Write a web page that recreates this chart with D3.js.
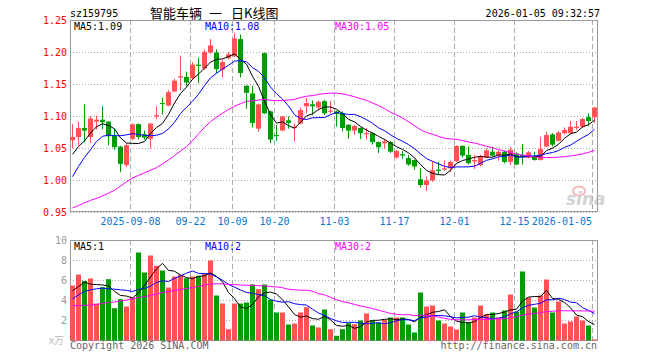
<!DOCTYPE html>
<html>
<head>
<meta charset="utf-8">
<script src="https://cdn.jsdelivr.net/npm/d3@7"></script>
<style>
  body { margin: 0; background: #fff; }
  text { font-family: "DejaVu Sans Mono", monospace; font-size: 10px; }
</style>
</head>
<body>
<div class="chart"></div>
<script>
// Sina daily K-line chart for sz159795
var opens = [1.063,1.068,1.082,1.068,1.092,1.095,1.092,1.070,1.053,1.024,
  1.065,1.088,1.072,1.065,1.100,1.121,1.117,1.139,1.161,1.162,
  1.160,1.181,1.175,1.200,1.200,1.173,1.191,1.194,1.221,1.148,
  1.136,1.081,1.199,1.108,1.071,1.078,1.094,1.082,1.089,1.116,
  1.119,1.114,1.124,1.108,1.108,1.105,1.087,1.078,1.082,1.072,
  1.074,1.060,1.058,1.060,1.036,1.041,1.035,1.032,1.002,0.993,
  1.000,1.017,1.017,1.019,1.030,1.054,1.040,1.030,1.024,1.036,
  1.045,1.039,1.045,1.029,1.042,1.040,1.037,1.037,1.032,1.053,
  1.072,1.062,1.074,1.074,1.082,1.084,1.099,1.099];
var highs = [1.088,1.092,1.119,1.101,1.101,1.116,1.093,1.081,1.054,1.059,
  1.089,1.089,1.078,1.090,1.116,1.129,1.141,1.159,1.195,1.170,
  1.185,1.192,1.204,1.221,1.205,1.189,1.201,1.230,1.228,1.149,
  1.148,1.120,1.200,1.109,1.087,1.101,1.100,1.089,1.114,1.129,
  1.125,1.125,1.126,1.124,1.109,1.108,1.088,1.087,1.083,1.082,
  1.075,1.061,1.065,1.062,1.048,1.046,1.040,1.033,1.019,1.006,
  1.030,1.029,1.031,1.031,1.055,1.055,1.053,1.040,1.040,1.050,
  1.053,1.047,1.047,1.053,1.044,1.057,1.046,1.045,1.068,1.076,
  1.074,1.077,1.083,1.093,1.093,1.098,1.105,1.115];
var lows = [1.050,1.055,1.060,1.059,1.080,1.080,1.055,1.048,1.013,1.021,
  1.063,1.064,1.064,1.050,1.096,1.103,1.116,1.138,1.141,1.147,
  1.158,1.152,1.173,1.198,1.168,1.161,1.189,1.193,1.161,1.112,
  1.083,1.076,1.104,1.058,1.062,1.077,1.081,1.061,1.088,1.105,
  1.102,1.110,1.102,1.104,1.084,1.077,1.065,1.071,1.065,1.064,
  1.056,1.043,1.050,1.043,1.034,1.034,1.023,1.017,0.989,0.984,
  0.998,1.009,1.015,1.013,1.029,1.036,1.025,1.018,1.022,1.035,
  1.037,1.031,1.027,1.024,1.024,1.025,1.035,1.031,1.031,1.052,
  1.053,1.061,1.072,1.073,1.079,1.082,1.085,1.090];
var closes = [1.068,1.082,1.078,1.097,1.095,1.091,1.069,1.052,1.026,1.055,
  1.088,1.068,1.067,1.089,1.102,1.120,1.138,1.156,1.163,1.153,
  1.181,1.179,1.201,1.211,1.174,1.185,1.197,1.222,1.168,1.137,
  1.090,1.119,1.105,1.064,1.070,1.100,1.090,1.084,1.110,1.121,
  1.116,1.123,1.105,1.109,1.104,1.082,1.078,1.085,1.074,1.074,
  1.060,1.052,1.061,1.045,1.046,1.039,1.025,1.022,0.993,1.000,
  1.016,1.015,1.019,1.029,1.054,1.039,1.027,1.032,1.037,1.047,
  1.039,1.045,1.029,1.048,1.025,1.038,1.044,1.032,1.049,1.071,
  1.056,1.075,1.079,1.084,1.084,1.096,1.093,1.114];
var volumes = [5.5,6.6,5.95,6.2,3.7,5.33,6.13,3.23,4.13,3.4,
  4.3,8.8,6.8,8.5,7.47,7.0,5.3,6.4,6.57,6.23,
  6.4,6.47,6.67,8.0,4.5,3.7,1.13,3.7,3.7,3.8,
  5.6,5.13,5.6,4.07,2.8,2.8,1.6,1.7,2.8,3.33,
  1.5,1.3,3.1,1.13,0.47,1.13,1.73,1.63,2.0,2.7,
  2.0,1.8,2.07,2.3,2.3,2.3,1.6,0.8,4.8,3.4,
  3.5,2.0,1.7,1.4,1.1,2.8,1.8,2.3,3.5,2.6,
  2.8,2.3,3.0,4.6,2.9,6.9,4.3,3.3,4.5,6.1,
  2.8,3.9,1.7,1.9,2.4,2.0,1.5,0.1];

// moving averages on the left edge (older days are not shown)
var ma5Lead = [1.041,1.053,1.062,1.074];
var ma10Lead = [1.006,1.022,1.036,1.048,1.061,1.069,1.071,1.070,1.070];
var ma30Lead = [0.957,0.961,0.965,0.969,0.972,0.976,0.980,0.985,0.991,0.998,
  1.004,1.008,1.012,1.016,1.020,1.026,1.032,1.039,1.046,1.053,
  1.062,1.073,1.083,1.092,1.099,1.105,1.111,1.116,1.120];
var volMa5Lead = [4.97,5.4,5.83,5.63];
var volMa10Lead = [4.17,4.57,4.9,5.07,5.17,5.23,5.17,5.13,5.07];
var volMa30Lead = [3.47,3.5,3.52,3.55,3.6,3.7,3.8,3.85,3.95,4.05,
  4.15,4.3,4.4,4.5,4.65,4.8,4.9,5.0,5.1,5.2,
  5.3,5.4,5.55,5.65,5.68,5.66,5.62,5.58,5.55];

var dateLabels = ["2025-09-08","09-22","10-09","10-20","11-03","11-17","12-01","12-15","2026-01-05"];
var dateIndex = [10,20,27,34,44,54,64,74,87];
var priceTicks = [1.25,1.20,1.15,1.10,1.05,1.00,0.95];
var volTicks = [10,8,6,4,2];
var priceLegend = ["MA5:1.09","MA10:1.08","MA30:1.05"];
var volLegend = ["MA5:1","MA10:2","MA30:2"];
var titleParts = ["智能车辆","一","日K线图"];

var svgWidth = 660;
var svgHeight = 360;
var left = 70, right = 597;
var upColor = "#ff5353", downColor = "#009c00";
var maColors = ["#000000","#0000ff","#ff00ff"];

function movingAvg(values, n, lead) {
  return values.map(function (v, i) {
    if (i < n - 1) return lead[i];
    return d3.mean(values.slice(i - n + 1, i + 1));
  });
}

var svg = d3.select(".chart")
  .append("svg")
  .attr("width", svgWidth)
  .attr("height", svgHeight);

// Step 1: scales
var xBand = d3.scaleLinear().domain([0, 1]).range([left, left + 6]);
var xMid = function (i) { return xBand(i) + 2.5; };
var yPrice = d3.scaleLinear().domain([0.95, 1.25]).range([212.5, 20.5]);
var yVol = d3.scaleLinear().domain([0, 10]).range([340.5, 240.5]);

// Step 2: header
svg.append("text").attr("x", 70).attr("y", 17).text("sz159795");
var titleX = [150, 209, 231];
svg.append("g").selectAll("text")
  .data(titleParts)
  .enter().append("text")
  .attr("x", (d, i) => titleX[i]).attr("y", 18)
  .style("font-family", "'Noto Sans CJK SC'").style("font-size", "13px")
  .text(d => d);
svg.append("text").attr("x", 600).attr("y", 17).attr("text-anchor", "end")
  .text("2026-01-05 09:32:57");

// Step 3: grids and frames
function panel(yScale, ticks, top, bottom) {
  svg.append("g").selectAll("line")
    .data(ticks.slice(1))
    .enter().append("line")
    .attr("x1", left).attr("x2", right)
    .attr("y1", d => Math.round(yScale(d) - 0.5) + 0.5)
    .attr("y2", d => Math.round(yScale(d) - 0.5) + 0.5)
    .attr("stroke", "#aaa").attr("stroke-dasharray", "1,2");
  svg.append("g").selectAll("line")
    .data(dateIndex)
    .enter().append("line")
    .attr("x1", d => xBand(d) + 0.5).attr("x2", d => xBand(d) + 0.5)
    .attr("y1", top).attr("y2", bottom)
    .attr("stroke", "#aaa").attr("stroke-dasharray", "5,3");
  svg.append("rect")
    .attr("x", left + 0.5).attr("y", top + 0.5)
    .attr("width", right - left).attr("height", bottom - top - 1)
    .attr("fill", "none").attr("stroke", "#999");
}
panel(yPrice, priceTicks, 20, 212);
panel(yVol, volTicks, 240, 341);

// watermark
var mark = svg.append("g").attr("opacity", 0.55);
mark.append("ellipse").attr("cx", 579).attr("cy", 191).attr("rx", 6).attr("ry", 4.5)
  .attr("fill", "none").attr("stroke", "#f08080").attr("stroke-width", 2);
mark.append("text").attr("x", 566).attr("y", 205)
  .style("font-family", "'DejaVu Sans'").style("font-size", "17px")
  .style("font-weight", "bold").style("font-style", "italic")
  .attr("fill", "#b0b0b0").text("sina");

// Step 4: axis labels
svg.append("g").selectAll("text")
  .data(priceTicks)
  .enter().append("text")
  .attr("x", 67).attr("y", d => yPrice(d) + 3.5)
  .attr("text-anchor", "end").attr("fill", "#ff0000")
  .text(d => d.toFixed(2));

svg.append("g").selectAll("text")
  .data(dateLabels)
  .enter().append("text")
  .attr("x", (d, i) => xBand(dateIndex[i]) + (i === dateLabels.length - 1 ? 0 : 0.5))
  .attr("y", 225)
  .attr("text-anchor", (d, i) => i === dateLabels.length - 1 ? "end" : "middle")
  .attr("fill", "#0a78d0")
  .text(d => d);

svg.append("g").selectAll("text")
  .data(volTicks)
  .enter().append("text")
  .attr("x", 67).attr("y", d => yVol(d) + 3.5)
  .attr("text-anchor", "end").attr("fill", "#999")
  .text(d => d);
svg.append("text").attr("x", 49).attr("y", 344).attr("fill", "#bbb")
  .style("font-family", "'Noto Sans CJK SC'").text("x万");

// Step 5: candles
var candles = svg.append("g").selectAll("g")
  .data(closes)
  .enter().append("g")
  .attr("fill", (d, i) => d >= opens[i] ? upColor : downColor)
  .attr("stroke", (d, i) => d >= opens[i] ? upColor : downColor);

candles.append("line")
  .attr("x1", (d, i) => xMid(i)).attr("x2", (d, i) => xMid(i))
  .attr("y1", (d, i) => yPrice(highs[i])).attr("y2", (d, i) => yPrice(lows[i]));

candles.append("rect")
  .attr("stroke", "none")
  .attr("x", (d, i) => xBand(i))
  .attr("width", 5)
  .attr("y", (d, i) => yPrice(Math.max(d, opens[i])))
  .attr("height", (d, i) => Math.max(1, Math.abs(yPrice(d) - yPrice(opens[i]))));

// Step 6: volume bars
svg.append("g").selectAll("rect")
  .data(volumes)
  .enter().append("rect")
  .attr("x", (d, i) => xBand(i))
  .attr("width", 5)
  .attr("y", d => yVol(d))
  .attr("height", d => yVol(0) - yVol(d))
  .attr("fill", (d, i) => closes[i] >= opens[i] ? upColor : downColor);

// Step 7: moving average lines
var priceMa = [movingAvg(closes, 5, ma5Lead), movingAvg(closes, 10, ma10Lead), movingAvg(closes, 30, ma30Lead)];
var volMa = [movingAvg(volumes, 5, volMa5Lead), movingAvg(volumes, 10, volMa10Lead), movingAvg(volumes, 30, volMa30Lead)];

function drawLines(series, yScale) {
  series.forEach(function (s, k) {
    svg.append("path")
      .datum(s)
      .attr("fill", "none")
      .attr("stroke", maColors[k])
      .attr("stroke-width", 1)
      .attr("d", d3.line().x((d, i) => xMid(i)).y(d => yScale(d)));
  });
}
drawLines(priceMa, yPrice);
drawLines(volMa, yVol);

// Step 8: legends and footer
var legendX = [74, 205, 335];
svg.append("g").selectAll("text")
  .data(priceLegend)
  .enter().append("text")
  .attr("x", (d, i) => legendX[i]).attr("y", 29.5)
  .attr("fill", (d, i) => maColors[i]).text(d => d);
svg.append("g").selectAll("text")
  .data(volLegend)
  .enter().append("text")
  .attr("x", (d, i) => legendX[i]).attr("y", 250)
  .attr("fill", (d, i) => maColors[i]).text(d => d);

svg.append("text").attr("x", 70).attr("y", 349).attr("fill", "#666")
  .text("Copyright 2026 SINA.COM");
svg.append("text").attr("x", 597).attr("y", 349).attr("text-anchor", "end").attr("fill", "#666")
  .text("http://finance.sina.com.cn");
</script>
</body>
</html>
